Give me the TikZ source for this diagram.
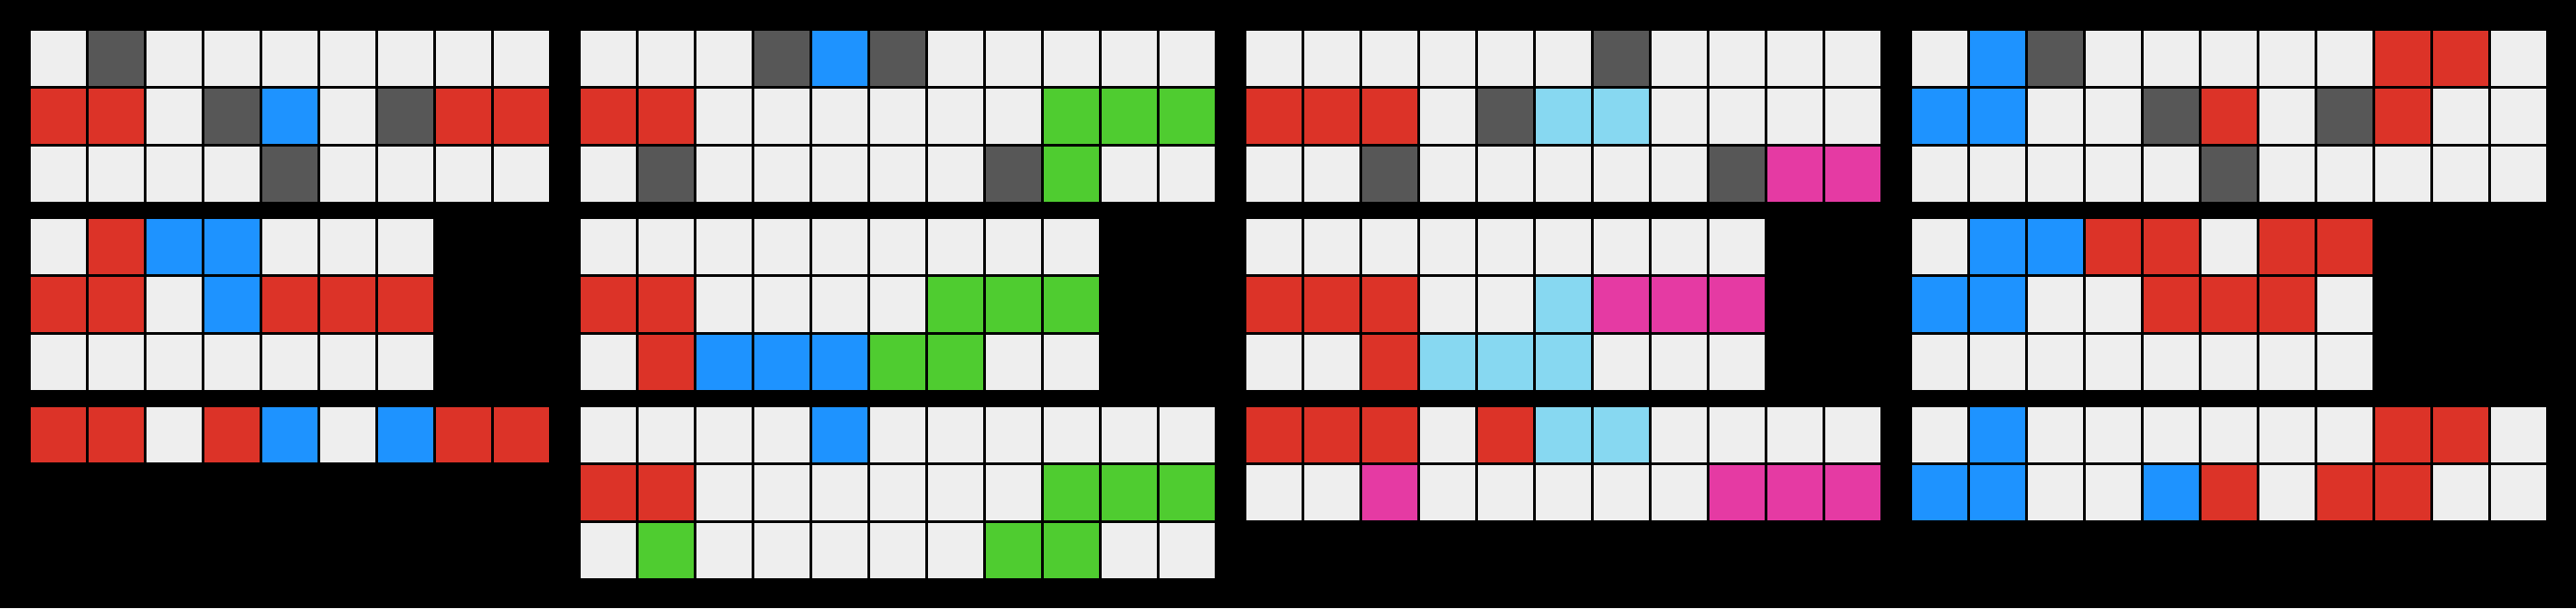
\documentclass[tikz,border=0pt]{standalone}
\usepackage{tikz}

\definecolor{cW}{HTML}{EEEEEE}
\definecolor{cK}{HTML}{575757}
\definecolor{cR}{HTML}{DC3328}
\definecolor{cB}{HTML}{1E93FF}
\definecolor{cG}{HTML}{4FCC30}
\definecolor{cC}{HTML}{87D8F1}
\definecolor{cM}{HTML}{E53AA3}

\newcommand{\cellgrid}[4]{%
	\foreach \row [count=\r] in {#4} {
		\foreach \c [count=\k] in \row {
			\node [fill=c\c] (#1-\r-\k) at (#2+\k-0.5,#3+\r-0.5) {};
		}
	}
}

\begin{document}
\begin{tikzpicture}[x=0.64cm,y=-0.64cm]
						\fill [black] (0,0) rectangle (44.5,10.5);
						
						\begin{scope}[every node/.style={rectangle,minimum size=0.61cm,inner sep=0pt,draw=none}]
							\cellgrid{pa1}{0.5}{0.5}{{W,K,W,W,W,W,W,W,W},{R,R,W,K,B,W,K,R,R},{W,W,W,W,K,W,W,W,W}}
							\cellgrid{pa2}{0.5}{3.75}{{W,R,B,B,W,W,W},{R,R,W,B,R,R,R},{W,W,W,W,W,W,W}}
							\cellgrid{pa3}{0.5}{7}{{R,R,W,R,B,W,B,R,R}}
						\end{scope}
						
						\begin{scope}[every node/.style={rectangle,minimum size=0.61cm,inner sep=0pt,draw=none}]
							\cellgrid{pb1}{10}{0.5}{{W,W,W,K,B,K,W,W,W,W,W},{R,R,W,W,W,W,W,W,G,G,G},{W,K,W,W,W,W,W,K,G,W,W}}
							\cellgrid{pb2}{10}{3.75}{{W,W,W,W,W,W,W,W,W},{R,R,W,W,W,W,G,G,G},{W,R,B,B,B,G,G,W,W}}
							\cellgrid{pb3}{10}{7}{{W,W,W,W,B,W,W,W,W,W,W},{R,R,W,W,W,W,W,W,G,G,G},{W,G,W,W,W,W,W,G,G,W,W}}
						\end{scope}
						
						\begin{scope}[every node/.style={rectangle,minimum size=0.61cm,inner sep=0pt,draw=none}]
							\cellgrid{pc1}{21.5}{0.5}{{W,W,W,W,W,W,K,W,W,W,W},{R,R,R,W,K,C,C,W,W,W,W},{W,W,K,W,W,W,W,W,K,M,M}}
							\cellgrid{pc2}{21.5}{3.75}{{W,W,W,W,W,W,W,W,W},{R,R,R,W,W,C,M,M,M},{W,W,R,C,C,C,W,W,W}}
							\cellgrid{pc3}{21.5}{7}{{R,R,R,W,R,C,C,W,W,W,W},{W,W,M,W,W,W,W,W,M,M,M}}
						\end{scope}
						
						\begin{scope}[every node/.style={rectangle,minimum size=0.61cm,inner sep=0pt,draw=none}]
							\cellgrid{pd1}{33}{0.5}{{W,B,K,W,W,W,W,W,R,R,W},{B,B,W,W,K,R,W,K,R,W,W},{W,W,W,W,W,K,W,W,W,W,W}}
							\cellgrid{pd2}{33}{3.75}{{W,B,B,R,R,W,R,R},{B,B,W,W,R,R,R,W},{W,W,W,W,W,W,W,W}}
							\cellgrid{pd3}{33}{7}{{W,B,W,W,W,W,W,W,R,R,W},{B,B,W,W,B,R,W,R,R,W,W}}
						\end{scope}
					\end{tikzpicture}
\end{document}
